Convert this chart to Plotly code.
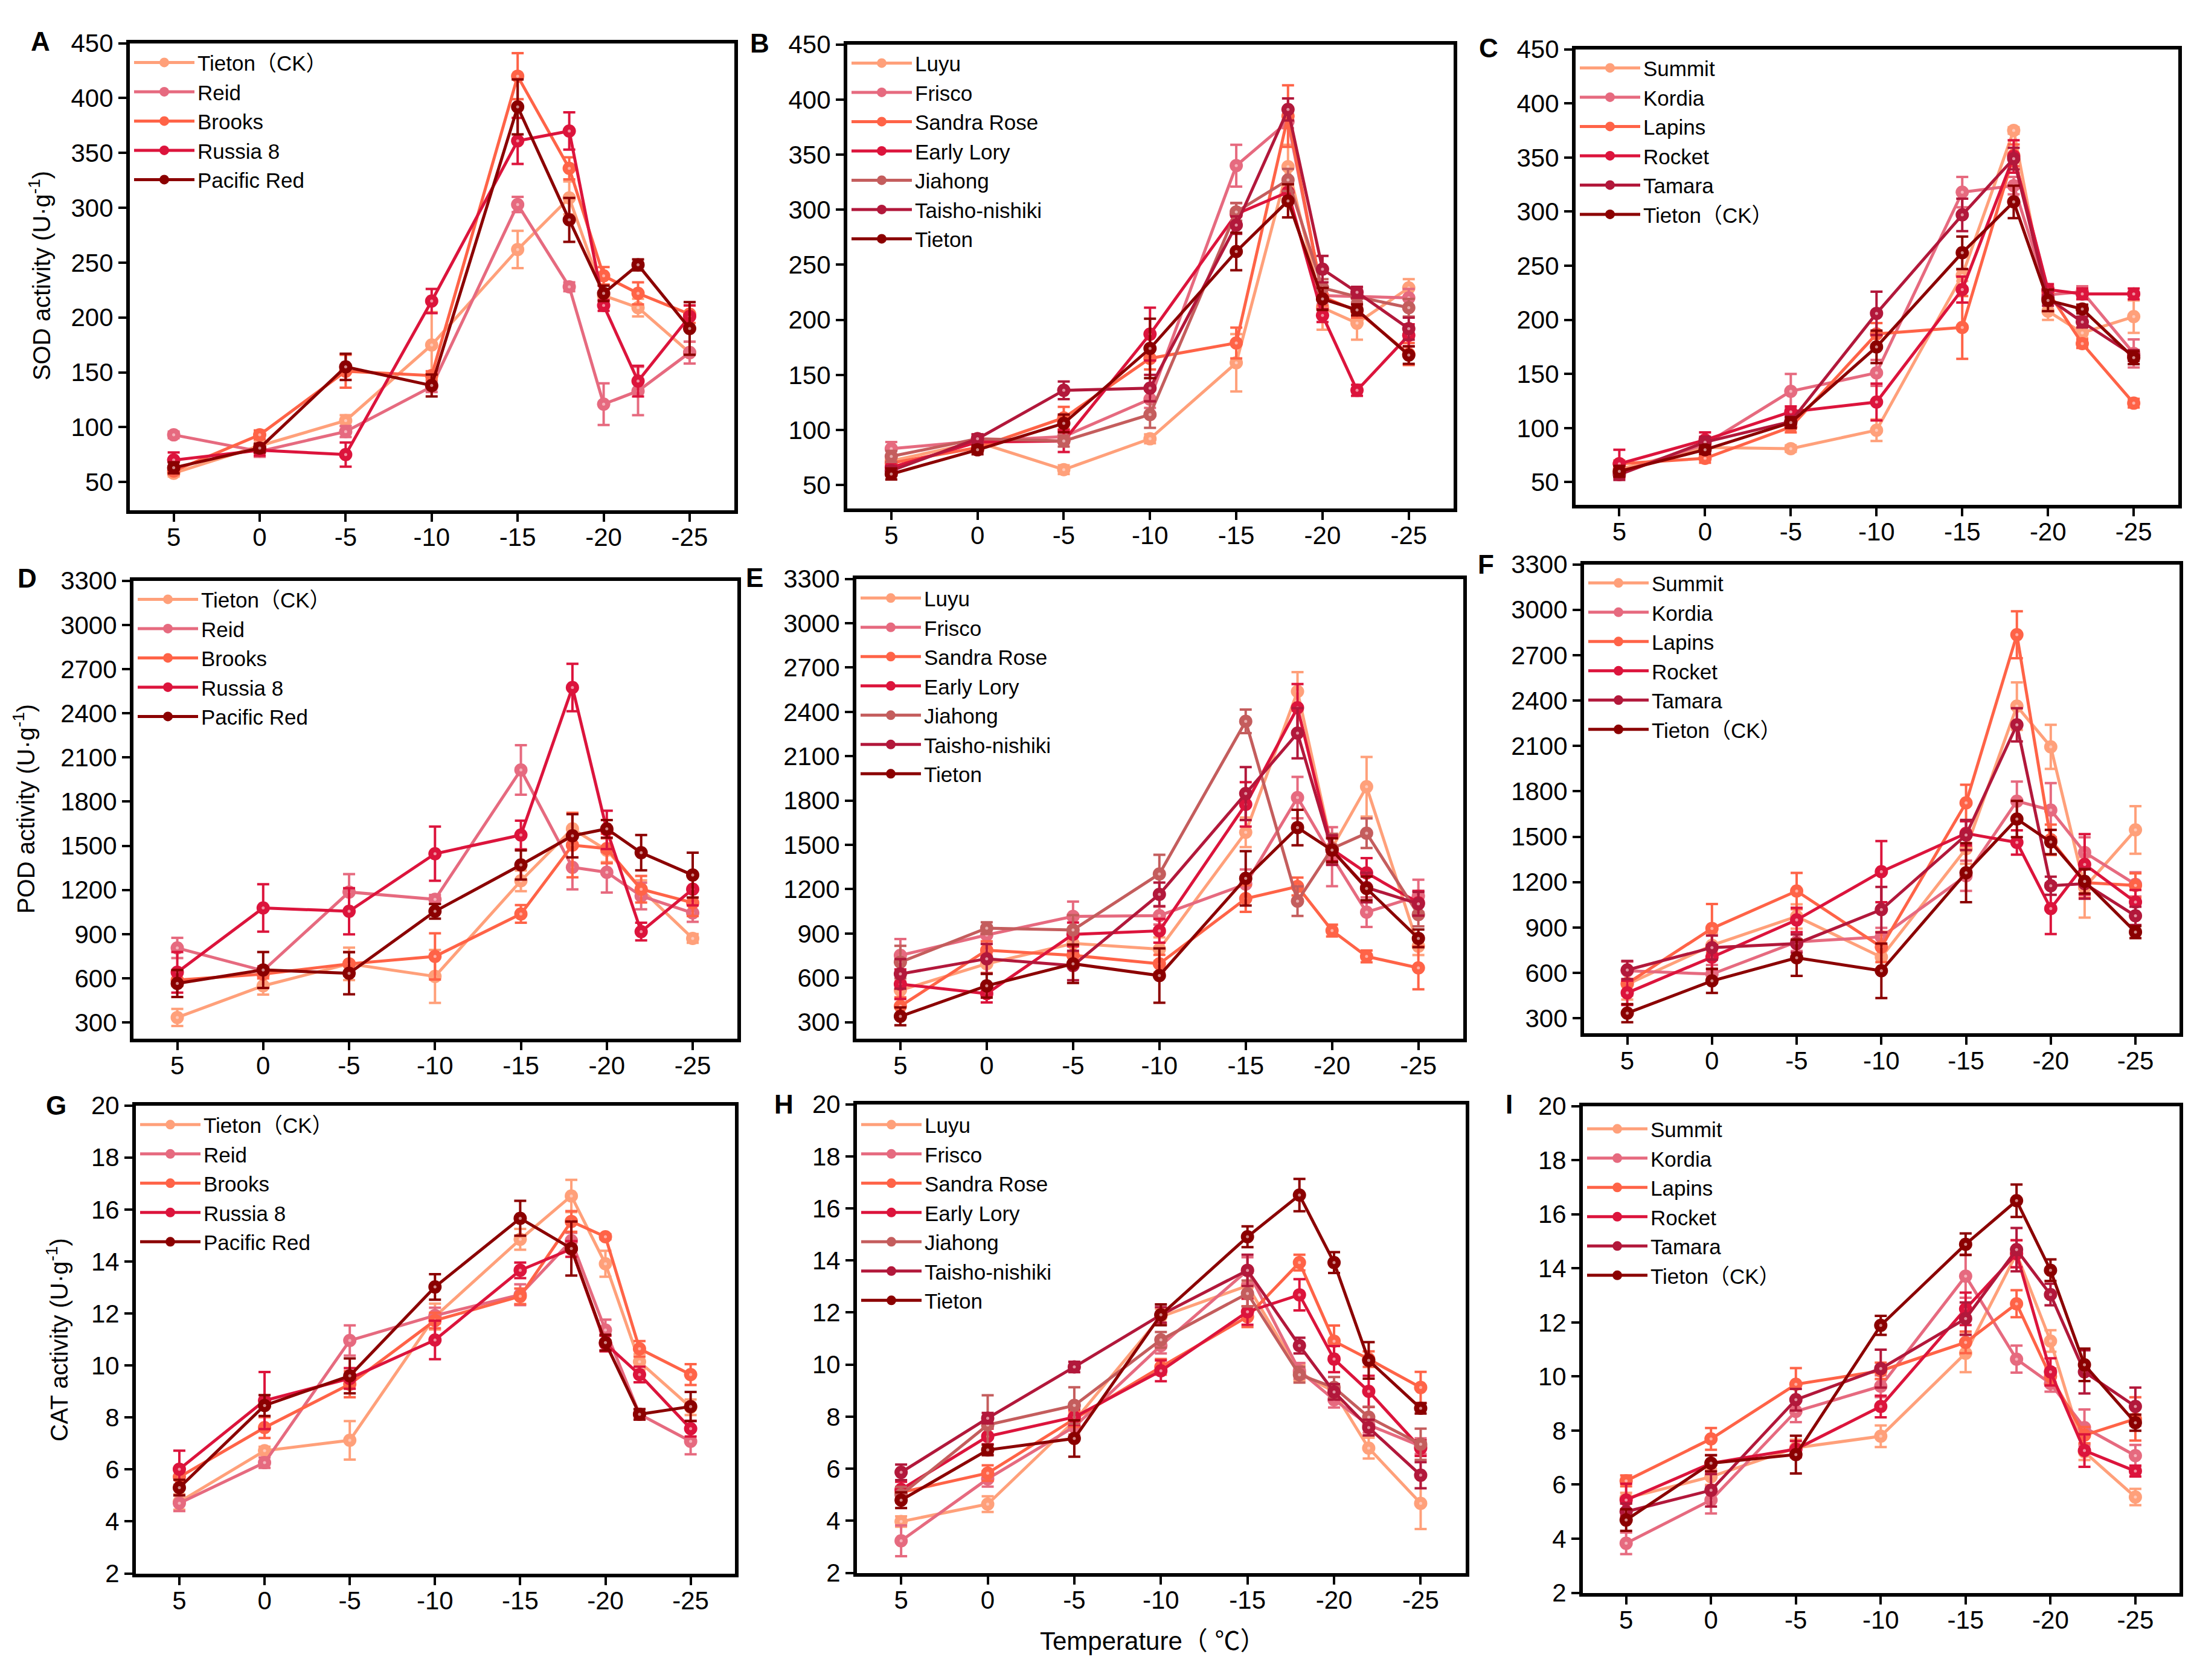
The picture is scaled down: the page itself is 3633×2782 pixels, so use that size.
import plotly.graph_objects as go

W, H = 3633, 2782

# ---------------- data ----------------
temps = [5, 0, -5, -10, -15, -18, -20, -22, -25]
temp_ticks = [5, 0, -5, -10, -15, -20, -25]
temp_tick_labels = ["5", "0", "-5", "-10", "-15", "-20", "-25"]

cultivars_1 = ["Tieton（CK）", "Reid", "Brooks", "Russia 8", "Pacific Red"]
cultivars_2 = ["Luyu", "Frisco", "Sandra Rose", "Early Lory", "Jiahong", "Taisho-nishiki", "Tieton"]
cultivars_3 = ["Summit", "Kordia", "Lapins", "Rocket", "Tamara", "Tieton（CK）"]

sod_1 = [
    [58, 83, 106, 175, 262, 309, 220, 209, 168],
    [93, 78, 96, 137, 303, 228, 121, 133, 168],
    [60, 93, 151, 147, 420, 336, 238, 222, 203],
    [70, 79, 75, 215, 361, 370, 211, 142, 201],
    [63, 81, 155, 138, 392, 289, 222, 248, 190],
]
sod_1_err = [
    [3, 5, 5, 30, 17, 15, 10, 8, 10],
    [3, 5, 5, 5, 7, 4, 19, 22, 10],
    [3, 4, 15, 4, 21, 10, 8, 10, 8],
    [7, 5, 11, 11, 21, 17, 5, 14, 10],
    [5, 4, 12, 10, 25, 20, 7, 5, 24],
]
sod_2 = [
    [72, 89, 64, 92, 161, 339, 211, 197, 229],
    [83, 90, 94, 128, 340, 380, 222, 221, 220],
    [70, 84, 111, 165, 179, 385, 221, 208, 169],
    [66, 89, 90, 187, 296, 316, 204, 136, 186],
    [76, 92, 90, 114, 298, 327, 229, 221, 211],
    [63, 92, 136, 138, 286, 391, 246, 225, 192],
    [60, 82, 106, 174, 262, 308, 219, 209, 168],
]
sod_2_err = [
    [5, 4, 4, 4, 26, 20, 20, 15, 8],
    [6, 5, 5, 8, 19, 6, 8, 8, 8],
    [5, 4, 10, 10, 14, 28, 8, 6, 10],
    [5, 4, 10, 24, 10, 8, 6, 5, 10],
    [5, 4, 5, 12, 8, 10, 8, 5, 8],
    [4, 4, 8, 12, 8, 10, 12, 5, 10],
    [5, 4, 8, 27, 17, 15, 10, 5, 8],
]
sod_3 = [
    [62, 82, 81, 98, 241, 375, 208, 188, 203],
    [59, 85, 134, 151, 318, 324, 223, 226, 169],
    [67, 72, 101, 187, 193, 352, 226, 178, 123],
    [67, 89, 115, 124, 228, 351, 228, 224, 224],
    [57, 87, 106, 206, 297, 349, 220, 198, 167],
    [60, 80, 105, 175, 262, 309, 218, 210, 165],
]
sod_3_err = [
    [3, 3, 3, 10, 5, 3, 8, 5, 15],
    [4, 5, 16, 12, 14, 8, 8, 5, 13],
    [3, 4, 5, 10, 29, 10, 5, 4, 4],
    [13, 7, 5, 17, 12, 15, 5, 5, 5],
    [5, 5, 5, 20, 15, 10, 7, 5, 5],
    [5, 4, 5, 15, 15, 15, 10, 4, 6],
]

pod_1 = [
    [334, 549, 698, 613, 1262, 1615, 1470, 1205, 871],
    [806, 652, 1186, 1136, 2015, 1354, 1320, 1159, 1044],
    [588, 629, 698, 749, 1037, 1504, 1481, 1205, 1113],
    [641, 1078, 1055, 1446, 1573, 2575, 1608, 917, 1205],
    [565, 657, 634, 1055, 1370, 1568, 1615, 1453, 1301],
]
pod_1_err = [
    [58, 60, 110, 180, 70, 110, 80, 60, 30],
    [69, 30, 122, 30, 168, 150, 138, 90, 60],
    [40, 30, 80, 157, 60, 218, 100, 90, 90],
    [138, 161, 157, 184, 97, 161, 130, 60, 110],
    [92, 122, 143, 50, 99, 147, 60, 120, 152],
]
pod_2 = [
    [516, 695, 833, 794, 1585, 2538, 1480, 1893, 814],
    [752, 890, 1016, 1021, 1234, 1820, 1420, 1044, 1154],
    [408, 787, 752, 695, 1136, 1218, 920, 745, 667],
    [557, 493, 894, 918, 1774, 2428, 1470, 1310, 1108],
    [706, 936, 924, 1303, 2336, 1119, 1475, 1579, 1028],
    [626, 729, 683, 1165, 1847, 2256, 1464, 1211, 1101],
    [339, 546, 695, 615, 1273, 1617, 1464, 1205, 867],
]
pod_2_err = [
    [60, 60, 60, 80, 100, 131, 80, 202, 60],
    [110, 60, 100, 60, 100, 140, 200, 100, 110],
    [60, 60, 60, 60, 90, 60, 40, 40, 145],
    [100, 60, 80, 80, 150, 160, 80, 100, 80],
    [110, 40, 100, 130, 80, 100, 100, 100, 80],
    [100, 100, 100, 80, 179, 170, 100, 100, 80],
    [60, 80, 130, 184, 184, 120, 80, 80, 60],
]
pod_3 = [
    [524, 782, 973, 704, 1421, 2363, 2094, 1165, 1545],
    [614, 592, 805, 838, 1242, 1735, 1676, 1396, 1185],
    [530, 894, 1141, 771, 1724, 2835, 1480, 1197, 1178],
    [468, 704, 950, 1269, 1522, 1462, 1025, 1317, 1068],
    [619, 767, 794, 1018, 1511, 2240, 1176, 1190, 977],
    [334, 547, 700, 614, 1262, 1617, 1465, 1205, 870],
]
pod_3_err = [
    [100, 80, 80, 80, 100, 157, 146, 200, 157],
    [60, 60, 60, 60, 100, 130, 179, 100, 80],
    [80, 161, 120, 100, 120, 155, 100, 100, 80],
    [80, 80, 80, 202, 80, 80, 168, 200, 80],
    [60, 80, 60, 150, 100, 110, 60, 100, 60],
    [60, 80, 120, 180, 195, 120, 80, 80, 40],
]

cat_1 = [
    [4.75, 6.72, 7.12, 11.88, 14.85, 16.52, 13.91, 10.14, 8.39],
    [4.70, 6.26, 10.96, 11.92, 12.72, 14.80, 11.36, 8.12, 7.08],
    [5.71, 7.61, 9.28, 11.73, 12.66, 15.54, 14.95, 10.64, 9.65],
    [6.01, 8.65, 9.50, 10.98, 13.66, 14.48, 10.84, 9.65, 7.57],
    [5.30, 8.46, 9.60, 13.02, 15.66, 14.50, 10.88, 8.12, 8.42],
]
cat_1_err = [
    [0.3, 0.15, 0.74, 0.5, 0.4, 0.62, 0.5, 0.3, 0.3],
    [0.3, 0.2, 0.58, 0.3, 0.4, 0.3, 0.4, 0.2, 0.5],
    [0.3, 0.4, 0.5, 0.3, 0.3, 0.4, 0.1, 0.3, 0.4],
    [0.71, 1.1, 0.4, 0.74, 0.3, 0.3, 0.3, 0.3, 0.3],
    [0.3, 0.4, 0.67, 0.49, 0.67, 1.04, 0.3, 0.2, 0.56],
]
cat_2 = [
    [3.97, 4.64, 7.83, 11.84, 13.03, 9.69, 8.95, 6.79, 4.67],
    [3.23, 5.61, 7.61, 10.73, 13.62, 9.76, 8.65, 7.68, 6.87],
    [5.09, 5.83, 7.91, 9.91, 11.84, 13.92, 10.90, 10.21, 9.12],
    [5.20, 7.24, 7.98, 9.76, 12.03, 12.68, 10.21, 8.97, 6.79],
    [5.00, 7.68, 8.43, 10.95, 12.73, 9.61, 9.12, 7.98, 6.94],
    [5.86, 7.94, 9.91, 11.91, 13.62, 10.73, 8.95, 7.58, 5.75],
    [4.79, 6.72, 7.16, 11.91, 14.91, 16.51, 13.92, 10.16, 8.32],
]
cat_2_err = [
    [0.2, 0.3, 0.3, 0.3, 0.5, 0.3, 0.3, 0.4, 0.99],
    [0.59, 0.3, 0.3, 0.3, 0.5, 0.3, 0.3, 0.3, 0.3],
    [0.2, 0.3, 0.3, 0.3, 0.4, 0.3, 0.6, 0.3, 0.6],
    [0.3, 0.3, 0.3, 0.4, 0.5, 0.6, 0.5, 0.6, 0.3],
    [0.3, 1.14, 0.7, 0.3, 0.5, 0.3, 0.4, 0.4, 0.6],
    [0.3, 0.2, 0.2, 0.3, 0.6, 0.3, 0.3, 0.3, 0.5],
    [0.3, 0.2, 0.7, 0.4, 0.4, 0.62, 0.4, 0.7, 0.2],
]
cat_3 = [
    [5.50, 6.29, 7.36, 7.79, 10.86, 14.54, 11.31, 7.21, 5.54],
    [3.83, 5.43, 8.71, 9.64, 13.71, 10.64, 9.74, 8.11, 7.07],
    [6.14, 7.69, 9.71, 10.21, 11.26, 12.69, 10.00, 7.83, 8.43],
    [5.43, 6.79, 7.31, 8.89, 12.50, 14.54, 10.17, 7.26, 6.50],
    [5.00, 5.79, 9.14, 10.29, 12.14, 14.69, 13.03, 10.17, 8.89],
    [4.69, 6.79, 7.11, 11.89, 14.89, 16.50, 13.93, 10.43, 8.29],
]
cat_3_err = [
    [0.2, 0.3, 0.3, 0.4, 0.7, 0.5, 0.4, 0.3, 0.3],
    [0.4, 0.5, 0.4, 0.4, 0.8, 0.5, 0.3, 0.67, 0.4],
    [0.2, 0.4, 0.6, 0.3, 0.4, 0.5, 0.3, 0.3, 0.8],
    [0.6, 0.3, 0.3, 0.4, 0.6, 0.5, 0.5, 0.6, 0.2],
    [0.3, 0.6, 0.4, 0.7, 0.6, 0.8, 0.4, 0.8, 0.7],
    [0.4, 0.3, 0.7, 0.35, 0.4, 0.6, 0.4, 0.6, 0.3],
]

sod_ticks = [50, 100, 150, 200, 250, 300, 350, 400, 450]
pod_ticks = [300, 600, 900, 1200, 1500, 1800, 2100, 2400, 2700, 3000, 3300]
cat_ticks = [2, 4, 6, 8, 10, 12, 14, 16, 18, 20]

# ---------------- style ----------------
C_SALMON = "#FFA07A"
C_ROSE = "#E66A7F"
C_TOMATO = "#FF6347"
C_CRIMSON = "#DC143C"
C_JIAHONG = "#C45D5D"
C_TAISHO = "#B2183B"
C_DARK = "#8B0000"
colors_1 = [C_SALMON, C_ROSE, C_TOMATO, C_CRIMSON, C_DARK]
colors_2 = [C_SALMON, C_ROSE, C_TOMATO, C_CRIMSON, C_JIAHONG, C_TAISHO, C_DARK]
colors_3 = [C_SALMON, C_ROSE, C_TOMATO, C_CRIMSON, C_TAISHO, C_DARK]

FONT = "Liberation Sans, Arial, Noto Sans CJK SC, sans-serif"

# vertical correction for the page capture (observed compression)
def vy(y):
    return 1 - ((y - 24.4) / 0.982) / H

def vx(x):
    return x / W

# panel boxes in target pixels: left, right, top, bottom
boxes = [
    (215, 1216, 73, 845), (1403, 2407, 75, 842), (2609, 3607, 83, 836),
    (221, 1221, 962, 1719), (1418, 2423, 959, 1719), (2623, 3609, 935, 1711),
    (225, 1217, 1830, 2604), (1419, 2427, 1828, 2603), (2621, 3609, 1831, 2636),
]
legend_center = [101, 102, 110, 989, 987, 962, 1858, 1858, 1865]
yranges = [(24.5, 450), (29, 450), (29.3, 450),
           (192, 3300), (190, 3300), (199, 3300),
           (2, 20), (2, 20), (2, 20)]
letters = ["A", "B", "C", "D", "E", "F", "G", "H", "I"]
letter_pos = [(67, 70), (1258, 73), (2465, 81), (45, 958), (1249, 957),
              (2460, 935), (93, 1830), (1298, 1828), (2499, 1828)]

panels = [
    (cultivars_1, colors_1, sod_1, sod_1_err, sod_ticks),
    (cultivars_2, colors_2, sod_2, sod_2_err, sod_ticks),
    (cultivars_3, colors_3, sod_3, sod_3_err, sod_ticks),
    (cultivars_1, colors_1, pod_1, pod_1_err, pod_ticks),
    (cultivars_2, colors_2, pod_2, pod_2_err, pod_ticks),
    (cultivars_3, colors_3, pod_3, pod_3_err, pod_ticks),
    (cultivars_1, colors_1, cat_1, cat_1_err, cat_ticks),
    (cultivars_2, colors_2, cat_2, cat_2_err, cat_ticks),
    (cultivars_3, colors_3, cat_3, cat_3_err, cat_ticks),
]

fig = go.Figure()
layout = dict(
    width=W, height=H, margin=dict(l=0, r=0, t=0, b=0),
    paper_bgcolor="white", plot_bgcolor="white",
    font=dict(family=FONT, size=40, color="black"),
    showlegend=True,
)

annotations = []
for i, (names, cols, vals, errs, yt) in enumerate(panels):
    k = "" if i == 0 else str(i + 1)
    xa, ya = "x" + k, "y" + k
    lg = "legend" + k
    L, R, T, B = boxes[i]
    for name, col, v, e in zip(names, cols, vals, errs):
        fig.add_trace(go.Scatter(
            x=temps, y=v, name=name, mode="lines+markers",
            xaxis=xa, yaxis=ya, legend=lg, cliponaxis=False,
            line=dict(color=col, width=5),
            marker=dict(color=col, size=22, line=dict(width=0)),
            error_y=dict(type="data", array=e, visible=True,
                         color=col, thickness=4, width=10),
        ))
        fig.add_trace(go.Scatter(
            x=temps, y=v, mode="markers", xaxis=xa, yaxis=ya,
            showlegend=False, hoverinfo="skip", cliponaxis=False,
            marker=dict(color="rgba(255,228,228,0.6)", size=5,
                        line=dict(width=0)),
        ))
    axcommon = dict(showline=True, mirror=True, linecolor="black", linewidth=6,
                    ticks="outside", ticklen=13, tickwidth=4, tickcolor="black",
                    showgrid=False, zeroline=False,
                    tickfont=dict(family=FONT, size=42, color="black"))
    layout["xaxis" + k] = dict(
        domain=[vx(L), vx(R)], anchor=ya, range=[7.55, -27.6],
        tickmode="array", tickvals=temp_ticks, ticktext=temp_tick_labels,
        ticklabelstandoff=-10, **axcommon)
    layout["yaxis" + k] = dict(
        domain=[vy(B), vy(T)], anchor=xa, range=list(yranges[i]),
        tickmode="array", tickvals=yt, ticktext=[str(t) for t in yt],
        **axcommon)
    ltop = (legend_center[i] - 24.4) / 0.982 - 26.0
    layout[lg] = dict(
        x=vx(L + 2), y=1 - ltop / H, xanchor="left", yanchor="top",
        xref="paper", yref="paper",
        bgcolor="rgba(0,0,0,0)", borderwidth=0, tracegroupgap=0,
        itemwidth=100, font=dict(family=FONT, size=35, color="black"),
    )
    lx, ly = letter_pos[i]
    annotations.append(dict(
        text="<b>%s</b>" % letters[i], x=vx(lx), y=vy(ly),
        xref="paper", yref="paper", xanchor="center", yanchor="middle",
        showarrow=False, font=dict(family=FONT, size=44, color="black")))

ytitles = [("SOD activity (U·g<sup>-1</sup>)", 66, 458),
           ("POD activity (U·g<sup>-1</sup>)", 40, 1340),
           ("CAT activity (U·g<sup>-1</sup>)", 95, 2218)]
for t, px, py in ytitles:
    annotations.append(dict(
        text=t, x=vx(px), y=vy(py), xref="paper", yref="paper",
        xanchor="center", yanchor="middle", textangle=-90, showarrow=False,
        font=dict(family=FONT, size=40, color="black")))
annotations.append(dict(
    text="Temperature（ ℃）", x=vx(1908), y=vy(2716), xref="paper", yref="paper",
    xanchor="center", yanchor="middle", showarrow=False,
    font=dict(family=FONT, size=42, color="black")))

layout["annotations"] = annotations
fig.update_layout(**layout)
fig.write_html("out.html")
